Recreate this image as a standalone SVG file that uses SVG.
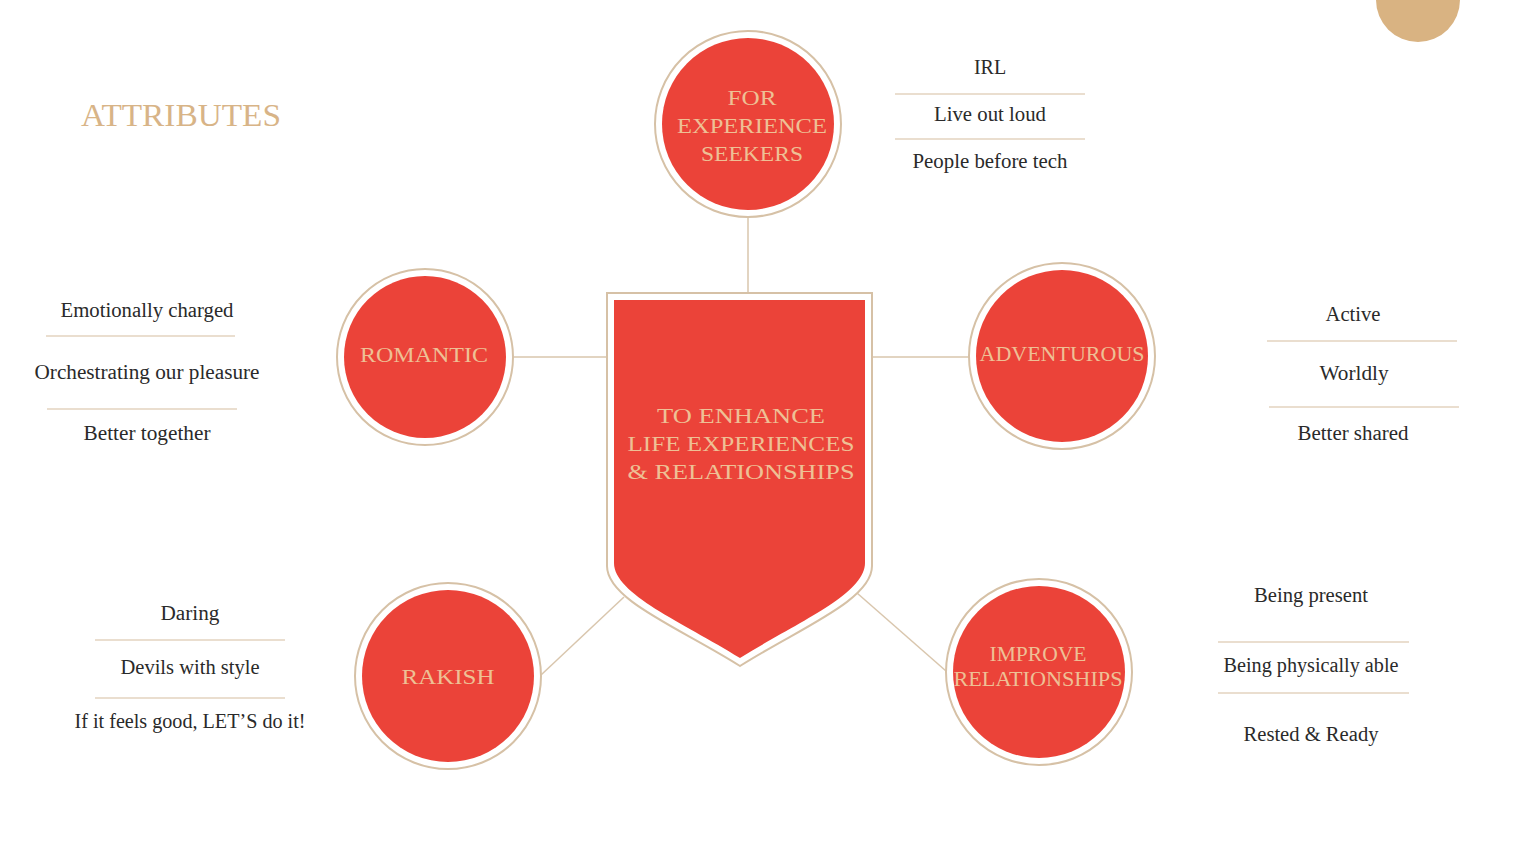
<svg xmlns="http://www.w3.org/2000/svg" width="1536" height="865" viewBox="0 0 1536 865">
<defs>
<style>
.ring{fill:#ffffff;stroke:#d6c1a6;stroke-width:2}
.red{fill:#eb4339}
.conn{stroke:#d9c6ad;stroke-width:1.5;fill:none}
.sep{stroke:#e3d3bf;stroke-width:1.5}
.ct{font-family:"Liberation Serif",serif;fill:#eec095;text-anchor:middle;font-size:22px}
.lt{font-family:"Liberation Serif",serif;fill:#2a2a2a;text-anchor:middle;font-size:20px}
.title{font-family:"Liberation Serif",serif;fill:#d8b487;font-size:32px}
</style>
</defs>
<rect width="1536" height="865" fill="#ffffff"/>
<circle cx="1418" cy="0" r="42" fill="#d9b382"/>
<text class="title" x="81" y="126" textLength="200" lengthAdjust="spacingAndGlyphs">ATTRIBUTES</text>

<g id="connectors">
<line class="conn" x1="748" y1="216" x2="748" y2="294"/>
<line class="conn" x1="513" y1="357" x2="607" y2="357"/>
<line class="conn" x1="872" y1="357" x2="969" y2="357"/>
<line class="conn" x1="541" y1="675" x2="624" y2="597"/>
<line class="conn" x1="857" y1="593" x2="946" y2="671"/>
</g>

<g id="shield">
<path class="ring" d="M607,293 H872 V566 C872,600 800,628 740,666 C680,628 607,600 607,566 Z"/>
<path class="red" d="M614,300 H865 V563 C865,594 798,622 740,658 C682,622 614,594 614,563 Z"/>
<text class="ct" font-size="24" x="741" y="423" textLength="168" lengthAdjust="spacingAndGlyphs">TO ENHANCE</text>
<text class="ct" font-size="24" x="741" y="451" textLength="227" lengthAdjust="spacingAndGlyphs">LIFE EXPERIENCES</text>
<text class="ct" font-size="24" x="741" y="479" textLength="227" lengthAdjust="spacingAndGlyphs">&amp; RELATIONSHIPS</text>
</g>

<g id="node-experience">
<circle class="ring" cx="748" cy="124" r="93"/>
<circle class="red" cx="748" cy="124" r="86"/>
<text class="ct" x="752" y="105" textLength="49" lengthAdjust="spacingAndGlyphs">FOR</text>
<text class="ct" x="752" y="133" textLength="150" lengthAdjust="spacingAndGlyphs">EXPERIENCE</text>
<text class="ct" x="752" y="161" textLength="102" lengthAdjust="spacingAndGlyphs">SEEKERS</text>
</g>

<g id="node-romantic">
<circle class="ring" cx="425" cy="357" r="88"/>
<circle class="red" cx="425" cy="357" r="81"/>
<text class="ct" x="424" y="362" textLength="128" lengthAdjust="spacingAndGlyphs">ROMANTIC</text>
</g>

<g id="node-adventurous">
<circle class="ring" cx="1062" cy="356" r="93"/>
<circle class="red" cx="1062" cy="356" r="86"/>
<text class="ct" x="1062" y="361" textLength="165" lengthAdjust="spacingAndGlyphs">ADVENTUROUS</text>
</g>

<g id="node-rakish">
<circle class="ring" cx="448" cy="676" r="93"/>
<circle class="red" cx="448" cy="676" r="86"/>
<text class="ct" font-size="24" x="448" y="684" textLength="93" lengthAdjust="spacingAndGlyphs">RAKISH</text>
</g>

<g id="node-improve">
<circle class="ring" cx="1039" cy="672" r="93"/>
<circle class="red" cx="1039" cy="672" r="86"/>
<text class="ct" x="1038" y="661" textLength="97" lengthAdjust="spacingAndGlyphs">IMPROVE</text>
<text class="ct" x="1038" y="686" textLength="169" lengthAdjust="spacingAndGlyphs">RELATIONSHIPS</text>
</g>

<g id="list-top">
<text class="lt" x="990" y="74">IRL</text>
<line class="sep" x1="895" y1="94" x2="1085" y2="94"/>
<text class="lt" x="990" y="121" textLength="112" lengthAdjust="spacingAndGlyphs">Live out loud</text>
<line class="sep" x1="895" y1="139" x2="1085" y2="139"/>
<text class="lt" x="990" y="168" textLength="155" lengthAdjust="spacingAndGlyphs">People before tech</text>
</g>

<g id="list-romantic">
<text class="lt" x="147" y="317" textLength="173" lengthAdjust="spacingAndGlyphs">Emotionally charged</text>
<line class="sep" x1="46" y1="336" x2="235" y2="336"/>
<text class="lt" x="147" y="379" textLength="225" lengthAdjust="spacingAndGlyphs">Orchestrating our pleasure</text>
<line class="sep" x1="47" y1="409" x2="237" y2="409"/>
<text class="lt" x="147" y="440" textLength="127" lengthAdjust="spacingAndGlyphs">Better together</text>
</g>

<g id="list-adventurous">
<text class="lt" x="1353" y="321" textLength="55" lengthAdjust="spacingAndGlyphs">Active</text>
<line class="sep" x1="1267" y1="341" x2="1457" y2="341"/>
<text class="lt" x="1354" y="380" textLength="69" lengthAdjust="spacingAndGlyphs">Worldly</text>
<line class="sep" x1="1269" y1="407" x2="1459" y2="407"/>
<text class="lt" x="1353" y="440" textLength="111" lengthAdjust="spacingAndGlyphs">Better shared</text>
</g>

<g id="list-rakish">
<text class="lt" x="190" y="620" textLength="59" lengthAdjust="spacingAndGlyphs">Daring</text>
<line class="sep" x1="95" y1="640" x2="285" y2="640"/>
<text class="lt" x="190" y="674" textLength="139" lengthAdjust="spacingAndGlyphs">Devils with style</text>
<line class="sep" x1="95" y1="698" x2="285" y2="698"/>
<text class="lt" x="190" y="728" textLength="231" lengthAdjust="spacingAndGlyphs">If it feels good, LET’S do it!</text>
</g>

<g id="list-improve">
<text class="lt" x="1311" y="602" textLength="114" lengthAdjust="spacingAndGlyphs">Being present</text>
<line class="sep" x1="1218" y1="642" x2="1409" y2="642"/>
<text class="lt" x="1311" y="672" textLength="175" lengthAdjust="spacingAndGlyphs">Being physically able</text>
<line class="sep" x1="1218" y1="693" x2="1409" y2="693"/>
<text class="lt" x="1311" y="741" textLength="135" lengthAdjust="spacingAndGlyphs">Rested &amp; Ready</text>
</g>
</svg>
